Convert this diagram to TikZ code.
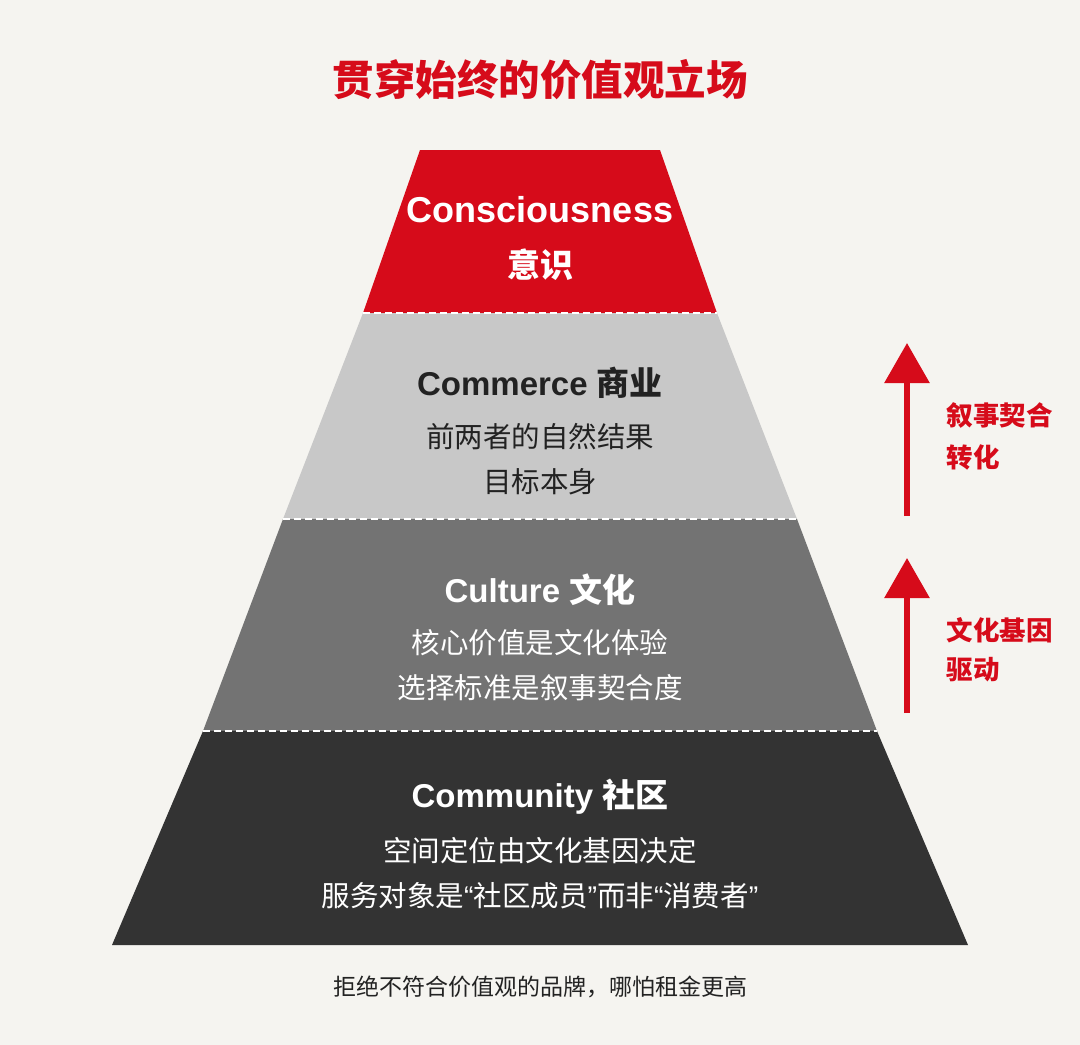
\documentclass[tikz,border=0pt]{standalone}
\usepackage{fontspec}
\setmainfont{Liberation Sans}
\newfontfamily\cjk{Noto Sans CJK SC}
\usetikzlibrary{arrows.meta}
\definecolor{bg}{HTML}{F5F4F0}
\definecolor{myred}{HTML}{D60B1A}
\definecolor{lg}{HTML}{C8C8C8}
\definecolor{mg}{HTML}{737373}
\definecolor{dg}{HTML}{333333}
\definecolor{tx}{HTML}{222222}
\begin{document}
\begin{tikzpicture}[x=1pt,y=-1pt,
  head/.style={font=\fontsize{33}{36}\selectfont\bfseries},
  sub/.style={font=\fontsize{28.5}{30}\selectfont\cjk},
  side/.style={font=\fontsize{26.5}{28}\selectfont\cjk\bfseries,text=myred,anchor=west},
  sep/.style={white,line width=2pt,dash pattern=on 7pt off 4pt},
  up/.style={myred,line width=6pt,-{Triangle[width=44pt,length=40pt]}}]
\fill[bg] (0,0) rectangle (1080,1045);
\useasboundingbox (0,0) rectangle (1080,1045);
\node[font=\fontsize{41.5}{44}\selectfont\cjk\bfseries,text=myred] (title) at (540,80) {贯穿始终的价值观立场};
\fill[myred] (420,150) -- (660,150) -- (717,313) -- (363,313) -- cycle;
\fill[lg] (363,313) -- (717,313) -- (797,519) -- (283,519) -- cycle;
\fill[mg] (283,519) -- (797,519) -- (877,731) -- (203,731) -- cycle;
\fill[dg] (203,731) -- (877,731) -- (968,945) -- (112,945) -- cycle;
\draw[sep] (363,313) -- (717,313);
\draw[sep] (283,519) -- (797,519);
\draw[sep] (203,731) -- (877,731);
\node[white,font=\fontsize{36}{38}\selectfont\bfseries] (c1) at (540,210) {Consciousness};
\node[head,white] (c1b) at (540,265) {\cjk 意识};
\node[head,text=tx] (c2) at (540,383) {Commerce {\cjk 商业}};
\node[sub,text=tx] (c2a) at (540,437) {前两者的自然结果};
\node[sub,text=tx] (c2b) at (540,482) {目标本身};
\node[head,white] (c3) at (540,590) {Culture {\cjk 文化}};
\node[sub,white] (c3a) at (540,643) {核心价值是文化体验};
\node[sub,white] (c3b) at (540,688) {选择标准是叙事契合度};
\node[head,white] (c4) at (540,797) {Community {\cjk 社区}};
\node[sub,white] (c4a) at (540,851) {空间定位由文化基因决定};
\node[sub,white] (c4b) at (540,896) {服务对象是{\fontspec{Liberation Sans}“}社区成员{\fontspec{Liberation Sans}”}而非{\fontspec{Liberation Sans}“}消费者{\fontspec{Liberation Sans}”}};
\node[font=\fontsize{23}{25}\selectfont\cjk,text=tx] (foot) at (540,987) {拒绝不符合价值观的品牌，哪怕租金更高};
\coordinate (a1s) at (907,516); \coordinate (a1e) at (907,343);
\coordinate (a2s) at (907,713); \coordinate (a2e) at (907,558);
\draw[up] (a1s) -- (a1e);
\draw[up] (a2s) -- (a2e);
\node[side] (l1) at (943,415) {叙事契合};
\node[side] (l2) at (943,457) {转化};
\node[side] (l3) at (943,630) {文化基因};
\node[side] (l4) at (943,670) {驱动};
\end{tikzpicture}
\end{document}
